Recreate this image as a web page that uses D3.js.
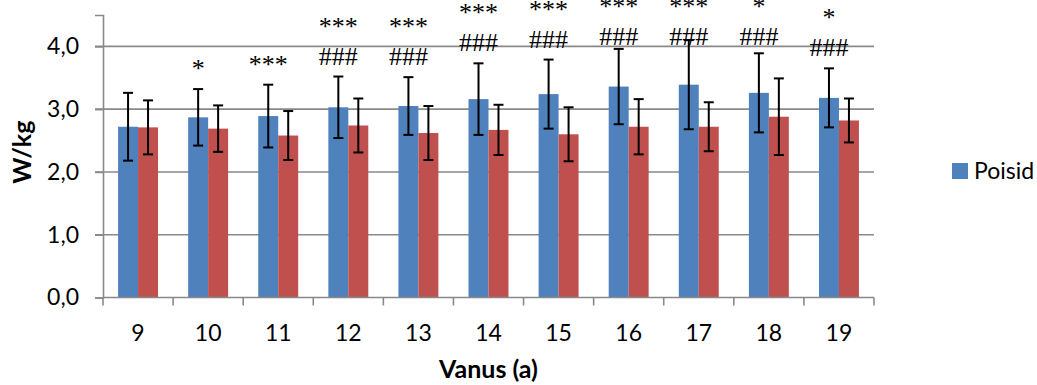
<!DOCTYPE html>
<html>
<head>
<meta charset="utf-8">
<script src="https://cdn.jsdelivr.net/npm/d3@7"></script>
<style>
  html, body { margin: 0; padding: 0; background: #ffffff; }
  svg { display: block; }
  .tick-label { font-family: Lato, "Open Sans", sans-serif; font-size: 23px; fill: #000; }
  .axis-title { font-family: Lato, "Open Sans", sans-serif; font-size: 25px; font-weight: bold; fill: #000; }
  .sig { font-family: "Liberation Serif", "DejaVu Serif", serif; font-size: 26px; fill: #000; }
</style>
</head>
<body>
<svg id="chart" width="1037" height="385"></svg>
<script>
// Age groups (years)
const ages = ["9", "10", "11", "12", "13", "14", "15", "16", "17", "18", "19"];

// Relative power, W/kg – boys (mean and SD)
const boysMean = [2.72, 2.87, 2.89, 3.03, 3.05, 3.16, 3.24, 3.36, 3.39, 3.26, 3.18];
const boysSD   = [0.54, 0.45, 0.50, 0.49, 0.46, 0.57, 0.55, 0.60, 0.71, 0.63, 0.47];

// Relative power, W/kg – girls (mean and SD)
const girlsMean = [2.71, 2.69, 2.58, 2.74, 2.62, 2.67, 2.60, 2.72, 2.72, 2.88, 2.82];
const girlsSD   = [0.43, 0.37, 0.39, 0.43, 0.43, 0.40, 0.43, 0.44, 0.39, 0.61, 0.35];

// Significance marks above the boys' bars (top line, bottom line)
const sigStars  = ["", "*", "***", "***", "***", "***", "***", "***", "***", "*", "*"];
const sigHashes = ["", "", "", "###", "###", "###", "###", "###", "###", "###", "###"];

// Y axis ticks
const yTicks = [0, 1, 2, 3, 4];

const seriesNames = ["Poisid", "Tüdrukud"];
const colors = { "Poisid": "#4F81BD", "Tüdrukud": "#C0504D" };
const gridColor = "#898989";

const svg = d3.select("#chart");

const plot = { left: 103, right: 874, top: 15, bottom: 297.5 };

const x = d3.scaleBand()
  .domain(ages)
  .range([plot.left, plot.right])
  .paddingInner(0)
  .paddingOuter(0);

const bw = x.bandwidth();
const barW = bw * 0.285;

const xSub = d3.scaleBand()
  .domain(seriesNames)
  .range([bw / 2 - barW, bw / 2 + barW])
  .padding(0);

const y = d3.scaleLinear()
  .domain([0, 4.5])
  .range([plot.bottom, plot.top]);

const fmt = v => d3.format(".1f")(v).replace(".", ",");

// Horizontal gridlines
svg.append("g")
  .selectAll("line")
  .data(yTicks.filter(t => t > 0))
  .join("line")
  .attr("x1", plot.left - 8)
  .attr("x2", plot.right)
  .attr("y1", d => y(d))
  .attr("y2", d => y(d))
  .attr("stroke", gridColor)
  .attr("stroke-width", 1.6);

// Y axis
const yAxis = d3.axisLeft(y)
  .tickValues(yTicks)
  .tickSize(8)
  .tickPadding(16)
  .tickFormat(fmt);

const gy = svg.append("g")
  .attr("transform", `translate(${plot.left},0)`)
  .call(yAxis);
gy.select(".domain").attr("stroke", gridColor).attr("stroke-width", 1.6);
gy.selectAll(".tick line").attr("stroke", gridColor).attr("stroke-width", 1.6);
gy.selectAll(".tick text")
  .attr("class", "tick-label")
  .attr("font-family", null)
  .attr("font-size", null);

// Bars data
const rows = ages.map((a, i) => ({
  age: a,
  values: [
    { key: "Poisid", mean: boysMean[i], sd: boysSD[i] },
    { key: "Tüdrukud", mean: girlsMean[i], sd: girlsSD[i] }
  ]
}));

const groups = svg.append("g")
  .selectAll("g")
  .data(rows)
  .join("g")
  .attr("transform", d => `translate(${x(d.age)},0)`);

groups.selectAll("rect")
  .data(d => d.values)
  .join("rect")
  .attr("x", d => xSub(d.key))
  .attr("width", xSub.bandwidth())
  .attr("y", d => y(d.mean))
  .attr("height", d => y(0) - y(d.mean))
  .attr("fill", d => colors[d.key]);

// Error bars (mean ± SD)
const capHalf = 5;
const eb = groups.selectAll("g.err")
  .data(d => d.values)
  .join("g")
  .attr("class", "err")
  .attr("stroke", "#000")
  .attr("stroke-width", 2);

eb.append("line")
  .attr("x1", d => xSub(d.key) + xSub.bandwidth() / 2)
  .attr("x2", d => xSub(d.key) + xSub.bandwidth() / 2)
  .attr("y1", d => y(d.mean + d.sd))
  .attr("y2", d => y(d.mean - d.sd));
eb.append("line")
  .attr("x1", d => xSub(d.key) + xSub.bandwidth() / 2 - capHalf)
  .attr("x2", d => xSub(d.key) + xSub.bandwidth() / 2 + capHalf)
  .attr("y1", d => y(d.mean + d.sd))
  .attr("y2", d => y(d.mean + d.sd));
eb.append("line")
  .attr("x1", d => xSub(d.key) + xSub.bandwidth() / 2 - capHalf)
  .attr("x2", d => xSub(d.key) + xSub.bandwidth() / 2 + capHalf)
  .attr("y1", d => y(d.mean - d.sd))
  .attr("y2", d => y(d.mean - d.sd));

// X axis
const xAxis = d3.axisBottom(x).tickSize(0).tickPadding(27);
const gx = svg.append("g")
  .attr("transform", `translate(0,${plot.bottom})`)
  .call(xAxis);
gx.select(".domain").remove();
gx.append("line")
  .attr("x1", plot.left).attr("x2", plot.right)
  .attr("y1", 0).attr("y2", 0)
  .attr("stroke", gridColor).attr("stroke-width", 1.6);
// Tick marks between categories
const boundaries = ages.map(a => x(a)).concat([plot.right]);
gx.selectAll("line.bound")
  .data(boundaries)
  .join("line")
  .attr("class", "bound")
  .attr("x1", d => d).attr("x2", d => d)
  .attr("y1", 0).attr("y2", 8)
  .attr("stroke", gridColor).attr("stroke-width", 1.6);
gx.selectAll(".tick text")
  .attr("class", "tick-label")
  .attr("font-family", null)
  .attr("font-size", null);

// Significance labels above the boys' bars
const sigG = svg.append("g");
ages.forEach((a, i) => {
  const cx = x(a) + xSub("Poisid") + xSub.bandwidth() / 2;
  const top = y(boysMean[i] + boysSD[i]);
  const base = Math.max(top - 12, 45);
  const lines = [sigStars[i], sigHashes[i]].filter(s => s);
  lines.reverse().forEach((txt, k) => {
    sigG.append("text")
      .attr("class", "sig")
      .attr("x", cx)
      .attr("y", base - k * 30)
      .attr("text-anchor", "middle")
      .text(txt);
  });
});

// Axis titles
svg.append("text")
  .attr("class", "axis-title")
  .attr("transform", `translate(31,${(plot.top + plot.bottom) / 2 - 4}) rotate(-90)`)
  .attr("text-anchor", "middle")
  .text("W/kg");

svg.append("text")
  .attr("class", "axis-title")
  .attr("x", (plot.left + plot.right) / 2)
  .attr("y", 378)
  .attr("text-anchor", "middle")
  .text("Vanus (a)");

// Legend
const lg = svg.append("g").attr("transform", "translate(952,163)");
lg.append("rect")
  .attr("width", 16).attr("height", 16)
  .attr("fill", colors["Poisid"]);
lg.append("text")
  .attr("class", "tick-label")
  .attr("x", 22)
  .attr("y", 16)
  .text("Poisid");
</script>
</body>
</html>
